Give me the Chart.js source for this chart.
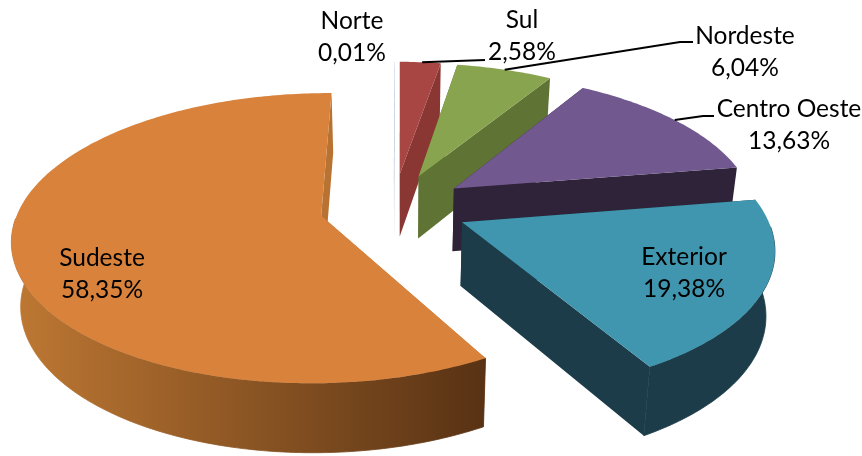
<!DOCTYPE html>
<html>
<head>
<meta charset="utf-8">
<title>Regiões</title>
<script src="https://cdn.jsdelivr.net/npm/chart.js@4"></script>
<style>
    html, body { margin: 0; padding: 0; background: #fff; }
    canvas { display: block; }
</style>
</head>
<body>
<canvas id="pieChart" width="862" height="456"></canvas>
<script>
const categories = ['Norte', 'Sul', 'Nordeste', 'Centro Oeste', 'Exterior', 'Sudeste'];
const shares = [0.01, 2.58, 6.04, 13.63, 19.38, 58.35];

const topColors = ['#4572A7', '#A84644', '#89A44E', '#71588F', '#4096AF', '#D9823C'];
const cutColors = ['#C9D3DE', '#8A3734', '#5F7434', '#2E2338', '#1B3C48', '#B87232'];
const wallLeft = ['#2A4565', '#8A3734', '#5F7434', '#2E2338', '#1B3C48', '#BE7833'];
const wallRight = ['#2A4565', '#8A3734', '#5F7434', '#2E2338', '#1B3C48', '#583214'];

// label centres, and where the leader lines bend and end
const labelCentres = [[352, 37], [522, 36], [745, 52], [789, 125], [684, 273], [102, 274]];
const leaders = [null, [[485, 60]], [[680, 42], [693, 42]], [[703, 116], [714, 116]], null, null];

// tilted camera: the pie plane seen in perspective
const view = { x0: 378, y0: 217, k: 0.1546, b: 142, f: 305, dx: 0.052, dy: 0.07 };

function project(x, y) {
    const py = y + view.dy;
    const d = 1 + view.k * py;
    return [view.x0 + view.f * (x + view.dx) / d, view.y0 - view.b * py / d];
}

// same point on the underside of the pie
function drop(p) {
    return [400 + (p[0] - 400) * 0.976, p[1] + 62 + (p[1] - 170) * 0.035];
}

function fillPoly(ctx, pts, fill, seam) {
    ctx.beginPath();
    pts.forEach((p, i) => i ? ctx.lineTo(p[0], p[1]) : ctx.moveTo(p[0], p[1]));
    ctx.closePath();
    ctx.fillStyle = fill;
    ctx.fill();
    if (seam) {
        ctx.strokeStyle = fill;
        ctx.lineWidth = 0.8;
        ctx.stroke();
    }
}

const pie3d = {
    id: 'pie3d',
    beforeDatasetDraw() {
        return false; // the arcs are painted below, tilted
    },
    afterDatasetsDraw(chart) {
        const ctx = chart.ctx;
        const arcs = chart.getDatasetMeta(0).data;

        arcs.forEach((arc, i) => {
            const mid = (arc.startAngle + arc.endAngle) / 2;
            const o = arc.options.offset / arc.outerRadius;
            const ax = Math.cos(mid) * o;
            const ay = -Math.sin(mid) * o;
            const apex = project(ax, ay);

            const rim = [];
            const front = [];
            const steps = Math.max(2, Math.ceil((arc.endAngle - arc.startAngle) / 0.015));
            for (let s = 0; s <= steps; s++) {
                const a = arc.startAngle + (arc.endAngle - arc.startAngle) * s / steps;
                const p = project(ax + Math.cos(a), ay - Math.sin(a));
                rim.push(p);
                if (Math.sin(a) > 0.02) front.push(p); // only this part of the wall faces us
            }
            arc.rimMid = rim[Math.round(steps / 2)];

            // cut faces
            const first = rim[0];
            const last = rim[rim.length - 1];
            fillPoly(ctx, [apex, first, drop(first), drop(apex)], cutColors[i], false);
            fillPoly(ctx, [apex, last, drop(last), drop(apex)], cutColors[i], false);

            // outer wall
            if (front.length > 1) {
                const xs = rim.map(p => p[0]);
                const grad = ctx.createLinearGradient(Math.min(...xs), 0, Math.max(...xs), 0);
                grad.addColorStop(0, wallLeft[i]);
                grad.addColorStop(1, wallRight[i]);
                fillPoly(ctx, front.concat(front.map(drop).reverse()), grad, true);
            }

            // top face
            fillPoly(ctx, [apex].concat(rim), arc.options.backgroundColor, false);
        });

        // leader lines start on the rim of their slice
        ctx.strokeStyle = '#000';
        ctx.lineWidth = 2;
        leaders.forEach((bends, i) => {
            if (!bends) return;
            const start = arcs[i].rimMid;
            ctx.beginPath();
            ctx.moveTo(start[0], start[1]);
            bends.forEach(p => ctx.lineTo(p[0], p[1]));
            ctx.stroke();
        });

        ctx.fillStyle = '#000';
        ctx.font = '24.5px Lato, sans-serif';
        ctx.textAlign = 'center';
        ctx.textBaseline = 'middle';
        categories.forEach((name, i) => {
            const c = labelCentres[i];
            ctx.fillText(name, c[0], c[1] - 16);
            ctx.fillText(shares[i].toFixed(2).replace('.', ',') + '%', c[0], c[1] + 16);
        });
    }
};

new Chart(document.getElementById('pieChart').getContext('2d'), {
    type: 'pie',
    data: {
        labels: categories,
        datasets: [{
            data: shares,
            backgroundColor: topColors,
            borderWidth: 0,
            offset: 50
        }]
    },
    options: {
        responsive: false,
        animation: false,
        rotation: 0.6,
        plugins: {
            legend: { display: false },
            tooltip: { enabled: false }
        }
    },
    plugins: [pie3d]
});
</script>
</body>
</html>
